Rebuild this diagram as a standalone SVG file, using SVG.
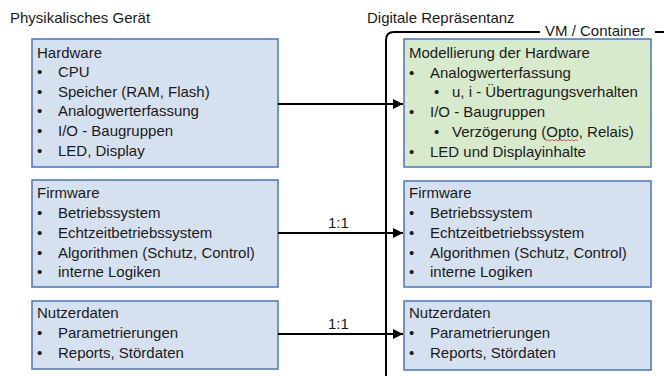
<svg xmlns="http://www.w3.org/2000/svg" width="664" height="376" viewBox="0 0 664 376">
<defs>
<style>
text{font-family:"Liberation Sans",Arial,sans-serif;font-size:15px;fill:#1a1a1a}
.box{fill:#d6e1ef;stroke:#4a76b8;stroke-width:1.5}
.green{fill:#d8eacc}
.conn{stroke:#000;stroke-width:2;fill:none}
</style>
<marker id="arr" viewBox="0 0 10 10" refX="10" refY="5" markerWidth="5" markerHeight="5" orient="auto" markerUnits="strokeWidth">
<path d="M0,0 L10,5 L0,10 z" fill="#000"/>
</marker>
</defs>
<rect width="664" height="376" fill="#fff"/>
<text x="10" y="23">Physikalisches Gerät</text>
<text x="367" y="23">Digitale Repräsentanz</text>
<text x="545" y="36">VM / Container</text>

<g id="container">
<path class="conn" d="M386,376 V40 Q386,32 394,32 H540"/>
<path class="conn" d="M655,32 H664"/>
</g>

<g id="hw-left">
<rect class="box" x="32" y="39" width="246" height="128"/>
<text x="37" y="58">Hardware</text>
<text x="37" y="77">•</text><text x="58" y="77">CPU</text>
<text x="37" y="97">•</text><text x="58" y="97">Speicher (RAM, Flash)</text>
<text x="37" y="116">•</text><text x="58" y="116">Analogwerterfassung</text>
<text x="37" y="136">•</text><text x="58" y="136">I/O - Baugruppen</text>
<text x="37" y="156">•</text><text x="58" y="156">LED, Display</text>
</g>

<g id="fw-left">
<rect class="box" x="32" y="180" width="246" height="107"/>
<text x="37" y="198">Firmware</text>
<text x="37" y="218">•</text><text x="58" y="218">Betriebssystem</text>
<text x="37" y="238">•</text><text x="58" y="238">Echtzeitbetriebssystem</text>
<text x="37" y="258">•</text><text x="58" y="258">Algorithmen (Schutz, Control)</text>
<text x="37" y="277">•</text><text x="58" y="277">interne Logiken</text>
</g>

<g id="nd-left">
<rect class="box" x="32" y="301" width="246" height="68"/>
<text x="37" y="318">Nutzerdaten</text>
<text x="37" y="338">•</text><text x="58" y="338">Parametrierungen</text>
<text x="37" y="358">•</text><text x="58" y="358">Reports, Stördaten</text>
</g>

<g id="hw-right">
<rect class="box green" x="404" y="39" width="247" height="128"/>
<text x="409" y="58">Modellierung der Hardware</text>
<text x="409" y="78">•</text><text x="430" y="78">Analogwerterfassung</text>
<text x="434" y="97">•</text><text x="452" y="97">u, i - Übertragungsverhalten</text>
<text x="409" y="117">•</text><text x="430" y="117">I/O - Baugruppen</text>
<text x="434" y="137">•</text><text x="452" y="137">Verzögerung (Opto, Relais)</text>
<path d="M546,141 l2,-1.5 l2,1.5 l2,-1.5 l2,1.5 l2,-1.5 l2,1.5 l2,-1.5 l2,1.5 l2,-1.5 l2,1.5 l2,-1.5 l2,1.5 l2,-1.5 l2,1.5 l2,-1.5 l2,1.5" fill="none" stroke="#d03030" stroke-width="0.8"/>
<text x="409" y="157">•</text><text x="430" y="157">LED und Displayinhalte</text>
</g>

<g id="fw-right">
<rect class="box" x="404" y="181" width="247" height="106"/>
<text x="409" y="198">Firmware</text>
<text x="409" y="218">•</text><text x="430" y="218">Betriebssystem</text>
<text x="409" y="238">•</text><text x="430" y="238">Echtzeitbetriebssystem</text>
<text x="409" y="258">•</text><text x="430" y="258">Algorithmen (Schutz, Control)</text>
<text x="409" y="277">•</text><text x="430" y="277">interne Logiken</text>
</g>

<g id="nd-right">
<rect class="box" x="404" y="301" width="247" height="69"/>
<text x="409" y="318">Nutzerdaten</text>
<text x="409" y="338">•</text><text x="430" y="338">Parametrierungen</text>
<text x="409" y="358">•</text><text x="430" y="358">Reports, Stördaten</text>
</g>

<g id="connectors">
<path class="conn" d="M278,104 H403" marker-end="url(#arr)"/>
<path class="conn" d="M278,233 H403" marker-end="url(#arr)"/>
<path class="conn" d="M278,334 H403" marker-end="url(#arr)"/>
<text x="328" y="228">1:1</text>
<text x="328" y="329">1:1</text>
</g>
</svg>
